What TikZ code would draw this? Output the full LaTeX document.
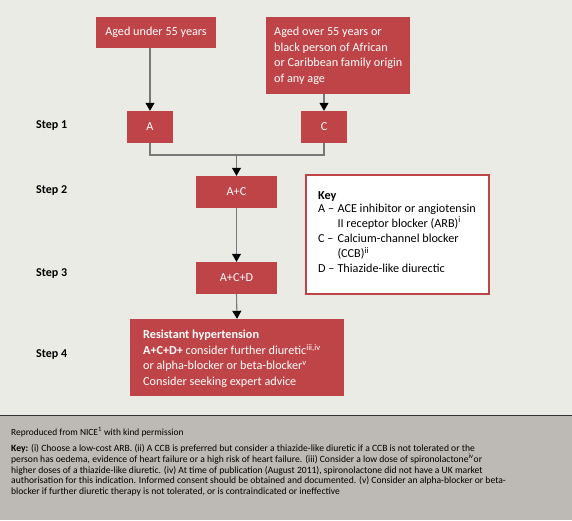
\documentclass[tikz,border=0pt]{standalone}
\usepackage{fontspec}
\setmainfont{Carlito}
\usetikzlibrary{arrows.meta}
\definecolor{bg}{RGB}{235,235,230}
\definecolor{boxred}{RGB}{190,68,72}
\definecolor{footgrey}{RGB}{189,185,180}
\definecolor{linegrey}{RGB}{120,120,120}
\tikzset{
  redbox/.style={fill=boxred, text=white, inner sep=0pt, font=\fontsize{12.2}{15.5}\selectfont},
  boxtext/.style={text=white, inner sep=0pt, anchor=west, align=left, font=\fontsize{12.2}{15.5}\selectfont},
  steplabel/.style={anchor=west, inner sep=0pt, font=\bfseries\fontsize{12}{14}\selectfont},
  conn/.style={draw=linegrey, line width=1.1pt},
  arr/.style={conn, -{Triangle[length=8pt,width=9pt,color=black]}}
}
\begin{document}
\begin{tikzpicture}[x=1pt,y=-1pt]
\useasboundingbox (0,0) rectangle (572,520);
\fill[bg] (0,0) rectangle (572,415);
\fill[footgrey] (0,416) rectangle (572,520);
\draw[black!80, line width=1pt] (0,415.5) -- (572,415.5);

% top boxes
\node[redbox, minimum width=120pt, minimum height=31pt] (under) at (156,32.5) {Aged under 55 years};
\node[redbox, minimum width=144pt, minimum height=77pt] (over) at (338,55.5) {};
\node[boxtext] (overtxt) at (274,56)
  {Aged over 55 years or\\black person of African\\or Caribbean family origin\\of any age};

% steps
\node[redbox, minimum width=46pt, minimum height=32pt] (A) at (150,127) {A};
\node[redbox, minimum width=46pt, minimum height=32pt] (C) at (324,127) {C};
\node[redbox, minimum width=81pt, minimum height=32pt] (AC) at (236.5,192) {A+C};
\node[redbox, minimum width=81pt, minimum height=32pt] (ACD) at (236.5,278) {A+C+D};
\node[redbox, minimum width=214pt, minimum height=77pt] (res) at (237,357.5) {};
\node[boxtext] (restxt) at (143,359)
  {\textbf{Resistant hypertension}\\\textbf{A+C+D+} consider further diuretic\textsuperscript{iii,iv}\\or alpha-blocker or beta-blocker\textsuperscript{v}\\Consider seeking expert advice};

% step labels
\node[steplabel] (s1) at (36,126) {Step 1};
\node[steplabel] (s2) at (36,191) {Step 2};
\node[steplabel] (s3) at (36,274) {Step 3};
\node[steplabel] (s4) at (36,354) {Step 4};

% connectors
\coordinate (j) at (236.5,155);
\draw[arr] (A |- under.south) -- (A.north);
\draw[arr] (C |- over.south) -- (C.north);
\draw[conn] (A.south) |- (j);
\draw[conn] (C.south) |- (j);
\draw[arr] (j) -- (AC.north);
\draw[arr] (AC.south) -- (ACD.north);
\draw[arr] (ACD.south) -- (res.north);

% key box
\node[draw=boxred, line width=2pt, fill=white, minimum width=183pt, minimum height=119pt, inner sep=0pt] (keybox) at (397.5,234.5) {};
\node[anchor=north west, inner sep=0pt, font=\fontsize{12.2}{15.2}\selectfont, align=left] (keytxt) at (318,191)
  {\textbf{Key}\\[-0.6pt]
   \begin{tabular}{@{}l@{\hspace{3pt}}l@{}}
   A – & ACE inhibitor or angiotensin\\
       & II receptor blocker (ARB)\textsuperscript{i}\\
   C – & Calcium-channel blocker\\
       & (CCB)\textsuperscript{ii}\\
   D – & Thiazide-like diurectic
   \end{tabular}};

% footer
\node[anchor=north west, inner sep=0pt, font=\fontsize{9.4}{10.7}\selectfont, align=left] (repro) at (11,427)
  {Reproduced from NICE\textsuperscript{1} with kind permission};
\node[anchor=north west, inner sep=0pt, font=\fontsize{9.6}{10.75}\selectfont, align=left] (foot) at (11,444.5)
  {\textbf{Key:} (i) Choose a low-cost ARB. (ii) A CCB is preferred but consider a thiazide-like diuretic if a CCB is not tolerated or the\\
   person has oedema, evidence of heart failure or a high risk of heart failure. (iii) Consider a low dose of spironolactone\textsuperscript{iv}or\\
   higher doses of a thiazide-like diuretic. (iv) At time of publication (August 2011), spironolactone did not have a UK market\\
   authorisation for this indication. Informed consent should be obtained and documented. (v) Consider an alpha-blocker or beta-\\
   blocker if further diuretic therapy is not tolerated, or is contraindicated or ineffective};
\end{tikzpicture}
\end{document}
